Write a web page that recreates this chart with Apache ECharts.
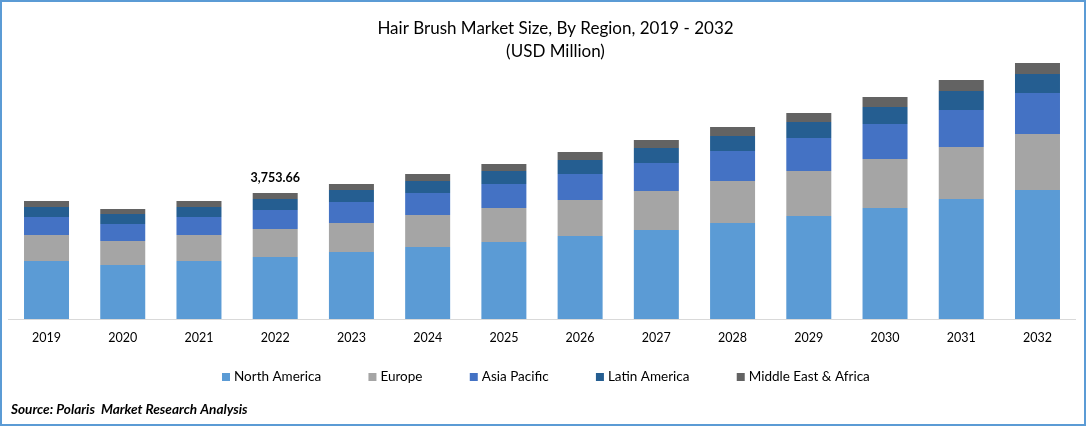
<!DOCTYPE html>
<html>
<head>
<meta charset="utf-8">
<title>Hair Brush Market Size</title>
<style>
    html, body { margin: 0; padding: 0; background: #fff; }
    #chart { width: 1086px; height: 426px; }
</style>
<script src="https://cdn.jsdelivr.net/npm/echarts@6/dist/echarts.min.js"></script>
</head>
<body>
<div id="chart"></div>
<script>
var years = ['2019', '2020', '2021', '2022', '2023', '2024', '2025', '2026', '2027', '2028', '2029', '2030', '2031', '2032'];
var northAmerica = [1728, 1609, 1728, 1847, 1996, 2145, 2294, 2473, 2651, 2860, 3068, 3307, 3575, 3843];
var europe = [775, 715, 775, 834, 864, 953, 1013, 1072, 1162, 1251, 1341, 1460, 1549, 1668];
var asiaPacific = [536, 506, 536, 566, 626, 655, 715, 775, 834, 894, 983, 1043, 1102, 1221];
var latinAmerica = [298, 298, 298, 328, 357, 357, 387, 417, 447, 447, 477, 506, 566, 566];
var middleEastAfrica = [179, 149, 179, 178.66, 179, 209, 209, 238, 238, 268, 268, 298, 328, 328];
var labelledYear = '2022';
var labelledTotal = '3,753.66';

var fontName = 'Lato';
var myChart = echarts.init(document.getElementById('chart'), null, { renderer: 'canvas' });

function barSeries(name, values, color) {
    return {
        name: name,
        type: 'bar',
        stack: 'total',
        barWidth: 45,
        itemStyle: { color: color },
        data: values
    };
}

var series = [
    barSeries('North America', northAmerica, '#5B9BD5'),
    barSeries('Europe', europe, '#A5A5A5'),
    barSeries('Asia Pacific', asiaPacific, '#4472C4'),
    barSeries('Latin America', latinAmerica, '#255E91'),
    barSeries('Middle East & Africa', middleEastAfrica, '#636363')
];

// 只有 2022 显示总数
series[4].label = {
    show: true,
    position: 'top',
    distance: 9,
    color: '#000',
    fontFamily: fontName,
    fontSize: 12.5,
    fontWeight: 'bold',
    formatter: function (p) {
        return p.name === labelledYear ? labelledTotal : '';
    }
};

var option = {
    animation: false,
    backgroundColor: '#fff',
    textStyle: { fontFamily: fontName },
    title: [
        {
            text: 'Hair Brush Market Size, By Region, 2019 - 2032\n(USD Million)',
            left: 550.5,
            top: 12,
            textAlign: 'center',
            textStyle: {
                color: '#000',
                fontFamily: fontName,
                fontSize: 17,
                fontWeight: 'normal',
                lineHeight: 23
            }
        },
        {
            text: 'Source: Polaris  Market Research Analysis',
            left: 6,
            top: 398,
            textStyle: {
                color: '#000',
                fontFamily: fontName,
                fontSize: 13.6,
                fontWeight: 'bold',
                fontStyle: 'italic'
            }
        }
    ],
    legend: {
        left: 222,
        top: 370,
        padding: 0,
        icon: 'rect',
        itemWidth: 8,
        itemHeight: 8,
        itemGap: 47.3,
        textStyle: { color: '#000', fontFamily: fontName, fontSize: 13.5, padding: [0, 0, 0, -1] }
    },
    grid: { left: 8.4, right: 10.4, top: 17, bottom: 107 },
    xAxis: {
        type: 'category',
        data: years,
        axisLine: { lineStyle: { color: '#D9D9D9', width: 1 } },
        axisTick: { show: false },
        axisLabel: { color: '#000', fontFamily: fontName, fontSize: 12.5, margin: 12 }
    },
    yAxis: {
        type: 'value',
        min: 0,
        max: 9000,
        show: false,
        splitLine: { show: false }
    },
    // 外边框
    graphic: [{
        type: 'rect',
        shape: { x: 1, y: 1, width: 1084, height: 424 },
        style: { fill: 'none', stroke: '#5B9BD5', lineWidth: 2 }
    }],
    series: series
};

myChart.setOption(option);
</script>
</body>
</html>
